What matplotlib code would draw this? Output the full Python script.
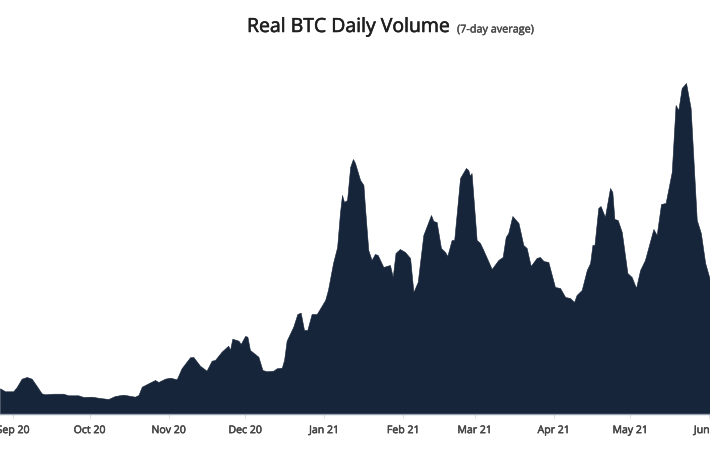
import matplotlib
matplotlib.use("Agg")
import matplotlib.pyplot as plt
import matplotlib.patheffects as pe

days = [-5.1,-3.1,0.1,1.4,3.4,5.4,7.3,9.3,11.2,12.5,15.8,19.7,21.7,25.6,27.6,30.8,34.1,37.4,40,43.3,47.8,49.2,50.5,53.1,55.7,57,59.6,61.6,64.2,66.1,69.4,70.7,73.3,75.9,77.9,79.2,81.8,84.4,85.1,86,88.4,89.3,91,91.9,92.9,96.2,97.8,99.5,102.1,103.4,105.4,106.3,107.3,109.9,111.5,112.8,114.1,115.4,117.1,119.1,121,122.4,
        123.5,125.5,127.1,128.2,129,129.8,131,132.2,133.3,134.1,
        136.1,137.4,138,139.3,140.6,141.9,143,145.2,147.8,148.9,150,151.7,153.7,155.7,157,158.7,160.9,163.9,164.8,166.1,167.8,169.4,170.3,172,173,175.3,177.6,178.5,179.2,179.8,181.8,183.1,184.4,187.7,190.3,192,193.2,194.2,195.8,198.2,200.1,201.4,203,205.3,206.6,208,209.9,212.5,214.5,216.5,218.4,220,221,223,225,226.3,227.2,228,229.5,230.4,232.1,234.1,235,235.8,237.1,238.7,240.9,242.6,244.3,245.9,247.8,251.1,252.4,254.1,255.9,258.3,259.8,260.9,262.2,263.9,265.7,268.1,269.7,271.4,273.3]
volume = [25.7,22.7,22.7,26.7,35.3,37,35.3,28,20.7,19.7,20.3,20.3,18.7,18.7,17,17.3,16,15,18,19.3,17.3,19,27.3,30.7,34,32,35.3,36.3,34.7,45.7,56.7,57,48.3,43.3,53.3,54,62.3,68.3,64,75.3,73.3,70,78,77.3,64,57.3,44,42.7,43.3,45.7,46.3,54,73.3,87.3,100,101.3,84,84,100,100,108,114,
          124,151,167,201,219,212,214,247,255,251,
          234,229,207,164,154,160,159,147,149,137,161,165,162,156,122,132,179,199,193,192,166,162,158,174,174,236,246,244,238,241,174,171,164,145,154,157,177,181,198,191,169,166,148,156,157,153,152,127,126,117,116,112,119,124,144,151,169,169,206,208,197,226,222,195,194,182,141,137,126,144,154,185,179,210,211,242,309,304,326,331,306,194,181,151,134]
tick_days = [0,30,61,91,122,153,181,212,242,273]
tick_labels = ["Sep 20","Oct 20","Nov 20","Dec 20","Jan 21","Feb 21","Mar 21","Apr 21","May 21","Jun 21"]
title_main = "Real BTC Daily Volume"
title_note = "(7-day average)"

plt.rcParams['font.family'] = ['Open Sans', 'DejaVu Sans']
fig = plt.figure(figsize=(7.10, 4.58), dpi=100, facecolor='white')
ax = fig.add_axes([0, (458-414)/458, 1, 414/458])
ax.fill_between(days, volume, 0, color='#17253a', linewidth=0.4)
ax.set_xlim(-5.1, 273.3)
ax.set_ylim(0, 414)
ax.set_yticks([])
ax.set_xticks(tick_days)
ax.set_xticklabels(tick_labels, fontsize=7.6, color='#444444',
                   path_effects=[pe.withStroke(linewidth=0.35, foreground='#444444')])
ax.tick_params(axis='x', length=3, width=0.7, color='#d8dde4', pad=5)
for side in ('top', 'left', 'right'):
    ax.spines[side].set_visible(False)
ax.spines['bottom'].set_color('#9aa3b0')
ax.spines['bottom'].set_linewidth(1)
fig.text(247/710, 1-27/458, title_main, fontsize=14, color='#1f1f1f', va='center', ha='left',
         path_effects=[pe.withStroke(linewidth=0.4, foreground='#1f1f1f')])
fig.text(457/710, 1-30/458, title_note, fontsize=7.8, color='#4a4a4a', va='center', ha='left',
         path_effects=[pe.withStroke(linewidth=0.3, foreground='#4a4a4a')])
fig.savefig('out.png', dpi=100, facecolor='white')
